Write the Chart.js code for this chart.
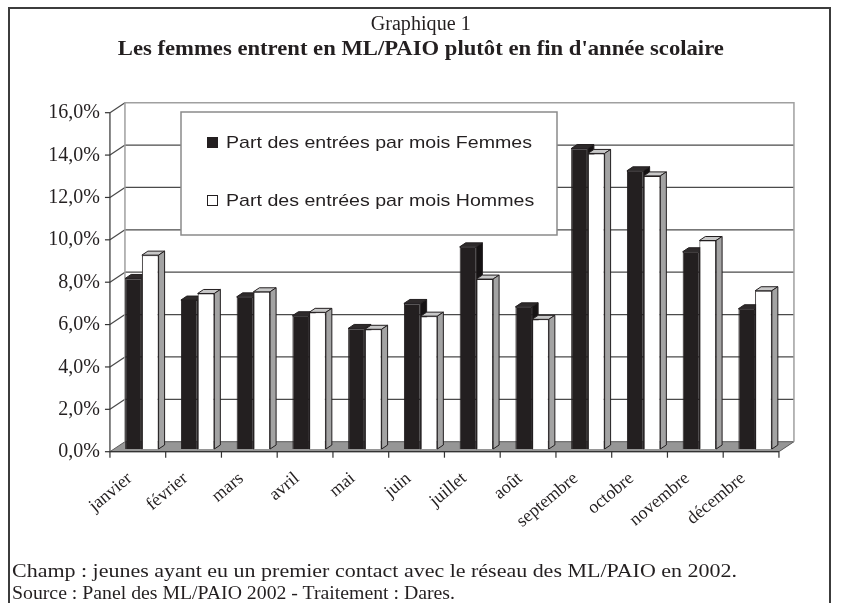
<!DOCTYPE html>
<html><head><meta charset="utf-8">
<script src="https://cdn.jsdelivr.net/npm/chart.js@4.4.1/dist/chart.umd.min.js"></script>
<style>
html,body{margin:0;padding:0;background:#fff;width:841px;height:603px;overflow:hidden}
#frame{position:absolute;left:8px;top:7px;width:823px;height:640px;border:2px solid #3c3c3c;box-sizing:border-box}
#wrap{position:absolute;left:0;top:0;width:841px;height:603px}
.row{position:absolute;left:0;width:841px;text-align:center;white-space:nowrap;line-height:1}
.row span,.foot{display:inline-block;font-family:"Liberation Serif","Times New Roman",serif;color:#231f20;white-space:nowrap;line-height:1}
.row span{transform-origin:50% 50%}
.foot{position:absolute;left:12px;transform-origin:0 50%;font-size:19px}
</style></head>
<body>
<div id="frame"></div>
<div id="wrap"><canvas id="c"></canvas></div>
<div class="row" style="top:13px"><span data-w="100" style="font-size:20px">Graphique 1</span></div>
<div class="row" style="top:38px"><span data-w="606" style="font-size:21px;font-weight:bold">Les femmes entrent en ML/PAIO plutôt en fin d'année scolaire</span></div>
<div class="foot" data-w="725" style="top:561px">Champ : jeunes ayant eu un premier contact avec le réseau des ML/PAIO en 2002.</div>
<div class="foot" data-w="443" style="top:583px">Source : Panel des ML/PAIO 2002 - Traitement : Dares.</div>
<script>
// ---- data ----
const categories = ['janvier','février','mars','avril','mai','juin','juillet','août','septembre','octobre','novembre','décembre'];
const seriesNames = ['Part des entrées par mois Femmes','Part des entrées par mois Hommes'];
const femmes = [8.05, 7.03, 7.18, 6.29, 5.69, 6.87, 9.54, 6.71, 14.18, 13.13, 9.31, 6.62];
const hommes = [9.15, 7.34, 7.42, 6.45, 5.65, 6.27, 8.02, 6.12, 13.95, 12.89, 9.84, 7.47];
const yTickValues = [0, 2, 4, 6, 8, 10, 12, 14, 16];

// fit document texts to the reference widths
document.querySelectorAll('[data-w]').forEach(el => {
  const w = el.getBoundingClientRect().width;
  el.style.transform = 'scaleX(' + (parseFloat(el.dataset.w) / w) + ')';
});

const INK = '#231f20';
const WALL_D = {dx: 15, dy: -10};
const FRONT_K = 0.27;
const BAR_D = {dx: 6, dy: -4};
const LEGEND_TEXT_W = 306;

const threeD = {
  id: 'threeD',
  beforeDatasetsDraw(chart) {
    const {ctx, chartArea: a, scales: {y}} = chart;
    const fdx = -FRONT_K * WALL_D.dx, fdy = -FRONT_K * WALL_D.dy;
    const bdx = fdx + WALL_D.dx, bdy = fdy + WALL_D.dy;
    const xf0 = a.left + fdx, xf1 = a.right + fdx;
    const xb0 = a.left + bdx, xb1 = a.right + bdx;
    const y0 = y.getPixelForValue(0), yT = y.getPixelForValue(y.max);
    ctx.save();
    ctx.lineJoin = 'miter';
    // floor
    ctx.beginPath();
    ctx.moveTo(xf0, y0 + fdy); ctx.lineTo(xf1, y0 + fdy); ctx.lineTo(xb1, y0 + bdy); ctx.lineTo(xb0, y0 + bdy); ctx.closePath();
    ctx.fillStyle = '#969696'; ctx.fill();
    ctx.strokeStyle = '#5a5a5a'; ctx.lineWidth = 1; ctx.stroke();
    // back wall gridlines
    ctx.strokeStyle = '#4a4a4a'; ctx.lineWidth = 1.2;
    y.ticks.forEach(t => {
      const py = y.getPixelForValue(t.value);
      if (t.value > 0 && t.value < y.max) {
        ctx.beginPath(); ctx.moveTo(xb0, py + bdy); ctx.lineTo(xb1, py + bdy); ctx.stroke();
      }
      if (t.value > 0) {
        ctx.beginPath(); ctx.moveTo(xf0, py + fdy); ctx.lineTo(xb0, py + bdy); ctx.stroke();
      }
    });
    // back wall border
    ctx.strokeStyle = '#a0a0a0'; ctx.lineWidth = 1.5;
    ctx.beginPath();
    ctx.moveTo(xb0, y0 + bdy); ctx.lineTo(xb0, yT + bdy); ctx.lineTo(xb1, yT + bdy); ctx.lineTo(xb1, y0 + bdy);
    ctx.stroke();
    // front axes
    ctx.strokeStyle = '#333'; ctx.lineWidth = 1.2;
    ctx.beginPath();
    ctx.moveTo(xf0, yT + fdy); ctx.lineTo(xf0, y0 + fdy); ctx.lineTo(xf1, y0 + fdy);
    ctx.stroke();
    y.ticks.forEach(t => {
      const py = y.getPixelForValue(t.value) + fdy;
      ctx.beginPath(); ctx.moveTo(xf0 - 5, py); ctx.lineTo(xf0, py); ctx.stroke();
    });
    const n = chart.data.labels.length;
    for (let i = 0; i <= n; i++) {
      const px = xf0 + i * (xf1 - xf0) / n;
      ctx.beginPath(); ctx.moveTo(px, y0 + fdy); ctx.lineTo(px, y0 + fdy + 6); ctx.stroke();
    }
    // bar depth faces
    chart.data.datasets.forEach((ds, di) => {
      const meta = chart.getDatasetMeta(di);
      meta.data.forEach(bar => {
        const p = bar.getProps(['x', 'y', 'base', 'width'], true);
        const l = p.x - p.width / 2, r = p.x + p.width / 2, top = p.y, base = p.base;
        ctx.lineWidth = 1; ctx.strokeStyle = INK;
        ctx.beginPath();
        ctx.moveTo(l, top); ctx.lineTo(r, top); ctx.lineTo(r + BAR_D.dx, top + BAR_D.dy); ctx.lineTo(l + BAR_D.dx, top + BAR_D.dy); ctx.closePath();
        ctx.fillStyle = ds.topColor; ctx.fill(); ctx.stroke();
        ctx.beginPath();
        ctx.moveTo(r, top); ctx.lineTo(r + BAR_D.dx, top + BAR_D.dy); ctx.lineTo(r + BAR_D.dx, base + BAR_D.dy); ctx.lineTo(r, base); ctx.closePath();
        ctx.fillStyle = ds.sideColor; ctx.fill(); ctx.stroke();
      });
    });
    ctx.restore();
  },
  afterDraw(chart) {
    const {ctx} = chart;
    const bx = 181, by = 112, bw = 376, bh = 123;
    ctx.save();
    ctx.fillStyle = '#fff'; ctx.fillRect(bx, by, bw, bh);
    ctx.strokeStyle = '#8a8a8a'; ctx.lineWidth = 1.5; ctx.strokeRect(bx, by, bw, bh);
    ctx.font = '17px "Liberation Sans", Arial, sans-serif';
    ctx.textBaseline = 'middle'; ctx.textAlign = 'left';
    const k = LEGEND_TEXT_W / ctx.measureText(chart.data.datasets[0].label).width;
    chart.data.datasets.forEach((ds, i) => {
      const cy = by + 31 + i * 58;
      ctx.fillStyle = ds.backgroundColor; ctx.fillRect(bx + 26, cy - 6, 11, 11);
      ctx.strokeStyle = INK; ctx.lineWidth = 1; ctx.strokeRect(bx + 26.5, cy - 5.5, 10, 10);
      ctx.fillStyle = INK;
      ctx.save();
      ctx.translate(bx + 45, cy);
      ctx.scale(k, 1);
      ctx.fillText(ds.label, 0, 0);
      ctx.restore();
    });
    ctx.restore();
  }
};

new Chart(document.getElementById('c'), {
  type: 'bar',
  data: {
    labels: categories,
    datasets: [
      {label: seriesNames[0], data: femmes, backgroundColor: INK, borderColor: INK, borderWidth: 1, topColor: '#2e2a2b', sideColor: '#151213'},
      {label: seriesNames[1], data: hommes, backgroundColor: '#ffffff', borderColor: INK, borderWidth: 1, topColor: '#c8c8c8', sideColor: '#a3a3a3'}
    ]
  },
  plugins: [threeD],
  options: {
    responsive: true,
    maintainAspectRatio: false,
    animation: false,
    events: [],
    layout: {padding: {left: 10, right: 58, top: 110, bottom: 54}},
    datasets: {bar: {categoryPercentage: 0.6, barPercentage: 1.0}},
    plugins: {legend: {display: false}, title: {display: false}, tooltip: {enabled: false}},
    scales: {
      x: {
        grid: {display: false, drawTicks: false},
        border: {display: false},
        afterFit: s => { s.height = 100; },
        ticks: {
          autoSkip: false, minRotation: 40, maxRotation: 40, padding: 19, labelOffset: -12,
          color: INK, font: {family: '"Liberation Serif", "Times New Roman", serif', size: 18}
        }
      },
      y: {
        min: 0, max: 16,
        afterFit: s => { s.width = 104; },
        afterBuildTicks: s => { s.ticks = yTickValues.map(v => ({value: v})); },
        grid: {display: false, drawTicks: false},
        border: {display: false},
        ticks: {
          padding: 14, labelOffset: 3, color: INK,
          font: {family: '"Liberation Serif", "Times New Roman", serif', size: 20},
          callback: v => v.toFixed(1).replace('.', ',') + '%'
        }
      }
    }
  }
});
</script>
</body></html>
